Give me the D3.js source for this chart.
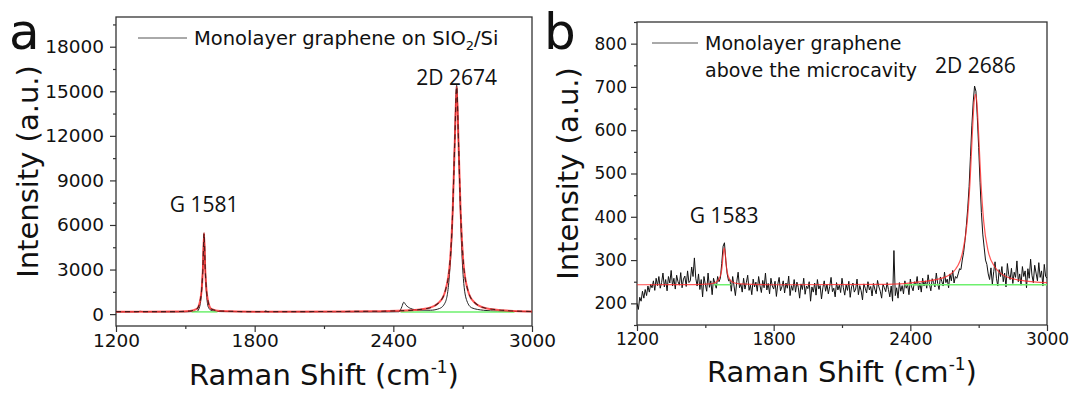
<!DOCTYPE html>
<html>
<head>
<meta charset="utf-8">
<script src="https://cdn.jsdelivr.net/npm/d3@7"></script>
<style>
  body { margin: 0; background: #fff; }
  svg { display: block; }
  text { font-family: "DejaVu Sans", "Liberation Sans", Arial, sans-serif; fill: #111; }
  .note { font-family: "Open Sans", "Noto Sans", sans-serif; }
</style>
</head>
<body>
<div id="chart"></div>
<script>
// ---- panel a : monolayer graphene on SiO2/Si ----
const dataA = [
  [1200,150],[1290,155],[1305,190],[1320,160],[1400,150],[1500,155],[1550,180],[1562,500],
  [1570,1500],[1576,3400],[1581,5400],[1586,3300],[1592,1300],[1600,450],[1615,230],[1650,170],
  [1840,160],[1848,220],[1856,160],[2100,155],[2380,150],[2425,160],[2437,500],[2445,800],
  [2455,600],[2475,380],[2510,270],[2560,260],[2600,380],[2625,800],[2642,2500],[2655,6000],
  [2665,11500],[2674,15400],[2683,11000],[2693,5500],[2703,2400],[2718,900],[2740,420],
  [2790,260],[2850,200],[2900,185],[3000,160]
];
const fitA = [
  [1200,165],[1450,170],[1520,210],[1550,350],[1563,830],[1571,1700],[1576,3000],[1581,5450],
  [1586,3000],[1591,1700],[1599,830],[1612,350],[1650,210],[1800,165],[2300,190],[2450,240],
  [2550,400],[2600,820],[2625,1580],[2645,3500],[2657,7000],[2666,11600],[2674,15300],
  [2682,11600],[2691,7000],[2703,3500],[2723,1580],[2750,800],[2800,400],[2900,230],[3000,180]
];
const baseA = [[1527,1639],[2431,2924]];
const baseAValue = 150;
const yTicksA = [0, 3000, 6000, 9000, 12000, 15000, 18000];
const yMinorA = [1500, 4500, 7500, 10500, 13500, 16500, 19500];

// ---- panel b : monolayer graphene above the microcavity ----
const startB = 1200, stepB = 6;
const intensityB = [
  200,186,214,205,228,212,232,218,240,226,244,
  236,252,230,258,241,262,235,248,270,238,255,229,262,247,276,240,258,233,265,250,242,271,236,256,263,239,275,248,252,284,
  262,305,258,240,
  268,232,255,215,262,244,228,270,237,252,220,258,246,235,262,250,
  258,292,332,340,298,268,252,
  255,228,262,240,218,250,272,236,245,226,
  258,233,248,265,230,242,220,256,238,249,
  228,262,241,225,253,236,270,231,246,222,
  258,240,233,251,216,244,260,229,238,252,
  224,247,235,263,218,241,230,255,226,249,
  237,212,245,232,258,221,240,234,250,205,
  238,226,247,219,255,233,241,210,236,252,
  228,244,222,239,260,227,235,215,248,231,
  242,225,258,236,219,243,230,251,214,238,
  247,226,233,256,220,241,229,208,245,235,
  224,250,231,239,217,246,233,222,253,238,
  228,212,244,236,227,248,
  232,215,240,205,322,218,
  236,212,248,228,241,222,252,235,244,220,
  256,238,229,250,242,262,231,247,226,258,
  240,252,235,266,244,229,257,248,238,270,
  246,232,261,251,240,272,248,256,236,268,
  252,276,247,262,258,
  268,280,278,300,318,345,380,420,470,540,610,665,702,690,630,560,480,410,360,330,300,
  290,268,255,282,244,273,296,258,240,278,
  262,285,250,270,238,292,266,255,281,246,
  272,260,298,250,268,242,285,262,275,236,
  280,258,302,265,248,288,270,252,294,260,
  275,240,290,262,258
];
const fitB = [
  [1200,243],[1450,243.5],[1520,245],[1550,250],[1565,262],[1573,282],[1578,311],[1583,328],
  [1588,311],[1593,282],[1601,262],[1616,250],[1650,245],[1800,243],[2300,244],[2450,250],
  [2550,260],[2600,280],[2630,320],[2650,390],[2662,480],[2672,590],[2680,665],[2686,683],
  [2692,665],[2700,590],[2710,480],[2722,390],[2742,320],[2770,285],[2820,262],[2900,252],[3000,248]
];
const baseB = [[1536,1612],[2373,3000]];
const baseBValue = 243;
const yTicksB = [200, 300, 400, 500, 600, 700, 800];
const yMinorB = [150, 250, 350, 450, 550, 650, 750, 850];

const xTicks = [1200, 1800, 2400, 3000];
const xMinor = [1500, 2100, 2700];

const svg = d3.select('#chart').append('svg')
  .attr('width', 1073)
  .attr('height', 396);

function drawPanel(p) {
  const g = svg.append('g');
  const x = d3.scaleLinear().domain([1200, 3000]).range([p.left, p.right]);
  const y = d3.scaleLinear().domain(p.yDomain).range([p.bottom, p.top]);

  // axes
  g.append('g')
    .attr('transform', `translate(0,${p.bottom})`)
    .call(d3.axisBottom(x).tickValues(xTicks).tickSize(6).tickPadding(2).tickFormat(d3.format('d')));
  g.append('g')
    .attr('transform', `translate(0,${p.bottom})`)
    .call(d3.axisBottom(x).tickValues(xMinor).tickSize(3).tickFormat(''));
  g.append('g')
    .attr('transform', `translate(${p.left},0)`)
    .call(d3.axisLeft(y).tickValues(p.yTicks).tickSize(6).tickPadding(p.yPad).tickFormat(d3.format('d')));
  g.append('g')
    .attr('transform', `translate(${p.left},0)`)
    .call(d3.axisLeft(y).tickValues(p.yMinor).tickSize(3).tickFormat(''));
  g.selectAll('.domain').remove();
  g.selectAll('.tick line').attr('stroke', '#333').attr('stroke-width', 1.2);
  g.selectAll('.tick text')
    .style('font-family', '"DejaVu Sans", sans-serif')
    .style('font-size', p.tickFont + 'px')
    .attr('fill', '#111');

  g.append('rect')
    .attr('x', p.left).attr('y', p.top)
    .attr('width', p.right - p.left).attr('height', p.bottom - p.top)
    .attr('fill', 'none').attr('stroke', '#333').attr('stroke-width', 1.3);

  const clip = 'clip-' + p.id;
  g.append('clipPath').attr('id', clip).append('rect')
    .attr('x', p.left).attr('y', p.top)
    .attr('width', p.right - p.left).attr('height', p.bottom - p.top);
  const plot = g.append('g').attr('clip-path', `url(#${clip})`);

  const straight = d3.line().x(d => x(d[0])).y(d => y(d[1]));
  const smooth = d3.line().x(d => x(d[0])).y(d => y(d[1])).curve(d3.curveMonotoneX);

  plot.append('path')
    .attr('d', p.smoothData ? smooth(p.data) : straight(p.data))
    .attr('fill', 'none').attr('stroke', p.dataColor).attr('stroke-width', p.dataWidth);

  p.base.forEach(seg => {
    plot.append('line')
      .attr('x1', x(seg[0])).attr('x2', x(seg[1]))
      .attr('y1', y(p.baseValue)).attr('y2', y(p.baseValue))
      .attr('stroke', '#6ef06e').attr('stroke-width', 1.5);
  });

  const fitPath = smooth(p.fit);
  plot.append('path').attr('d', fitPath)
    .attr('fill', 'none').attr('stroke', '#ff2a2a')
    .attr('stroke-width', p.fitWidth).attr('stroke-opacity', 0.8);
  if (p.dashed) {
    plot.append('path').attr('d', fitPath)
      .attr('fill', 'none').attr('stroke', '#4a1a1a')
      .attr('stroke-width', 1.1).attr('stroke-dasharray', '5,4');
  }

  // titles
  g.append('text')
    .attr('x', (p.left + p.right) / 2).attr('y', p.xTitleY)
    .attr('text-anchor', 'middle').style('font-size', '29px')
    .call(t => {
      t.append('tspan').text('Raman Shift (cm');
      t.append('tspan').attr('dy', -12).style('font-size', '17px').text('-1');
      t.append('tspan').attr('dy', 12).text(')');
    });
  g.append('text')
    .attr('transform', `translate(${p.yTitleX},${(p.top + p.bottom) / 2}) rotate(-90)`)
    .attr('text-anchor', 'middle').style('font-size', '29px')
    .text('Intensity (a.u.)');
  g.append('text')
    .attr('x', p.labelX).attr('y', 49)
    .style('font-size', '50px')
    .text(p.label);

  // legend
  g.append('line')
    .attr('x1', p.legX1).attr('x2', p.legX2)
    .attr('y1', p.legY).attr('y2', p.legY)
    .attr('stroke', '#555').attr('stroke-width', 1);
  p.legend(g);

  // peak labels
  p.notes.forEach(n => {
    g.append('text').attr('class', 'note')
      .attr('x', x(n.at)).attr('y', n.y)
      .attr('text-anchor', 'middle').style('font-size', '21px')
      .text(n.text);
  });
}

drawPanel({
  id: 'a', label: 'a', labelX: 9,
  left: 116, right: 532, top: 17, bottom: 326,
  yDomain: [-800, 20000], yTicks: yTicksA, yMinor: yMinorA,
  tickFont: 18.5, yPad: 6, yTitleX: 38, xTitleY: 385,
  data: dataA, smoothData: true, dataColor: '#222', dataWidth: 1,
  fit: fitA, fitWidth: 2, dashed: true,
  base: baseA, baseValue: baseAValue,
  legX1: 138, legX2: 187, legY: 38,
  legend: g => {
    g.append('text').attr('x', 194).attr('y', 45).style('font-size', '19.5px')
      .call(t => {
        t.append('tspan').text('Monolayer graphene on SIO');
        t.append('tspan').attr('dy', 5).style('font-size', '13px').text('2');
        t.append('tspan').attr('dy', -5).text('/Si');
      });
  },
  notes: [{ at: 1581, y: 212, text: 'G 1581' }, { at: 2674, y: 85, text: '2D 2674' }]
});

drawPanel({
  id: 'b', label: 'b', labelX: 544,
  left: 637, right: 1047, top: 22, bottom: 325,
  yDomain: [150, 850], yTicks: yTicksB, yMinor: yMinorB,
  tickFont: 17, yPad: 4, yTitleX: 578, xTitleY: 382,
  data: intensityB.map((v, i) => [startB + i * stepB, v]), smoothData: false,
  dataColor: '#111', dataWidth: 1,
  fit: fitB, fitWidth: 1.2, dashed: false,
  base: baseB, baseValue: baseBValue,
  legX1: 652, legX2: 698, legY: 43,
  legend: g => {
    g.append('text').attr('x', 705).attr('y', 50).style('font-size', '19px').text('Monolayer graphene');
    g.append('text').attr('x', 705).attr('y', 77).style('font-size', '19px').text('above the microcavity');
  },
  notes: [{ at: 1583, y: 223, text: 'G 1583' }, { at: 2686, y: 73, text: '2D 2686' }]
});
</script>
</body>
</html>
